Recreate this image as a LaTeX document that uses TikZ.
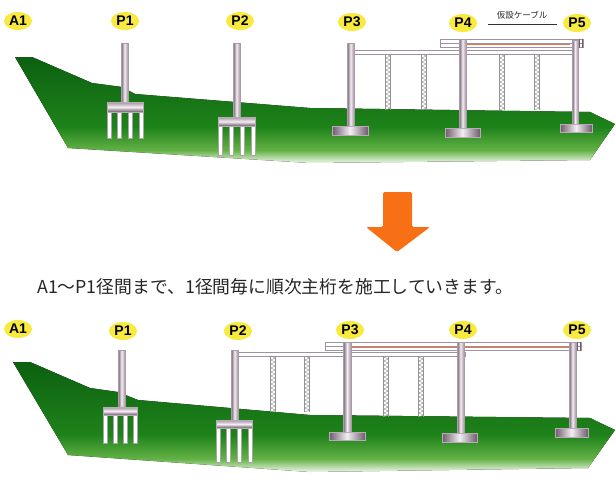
\documentclass[tikz,border=0pt]{standalone}
\usepackage{fontspec}
\setmainfont{Liberation Sans}
\newfontfamily\jpfont{Noto Sans CJK JP}
\usetikzlibrary{shapes.geometric}

\definecolor{gtop}{RGB}{12,96,16}
\definecolor{gmid}{RGB}{30,130,26}
\definecolor{glight}{RGB}{100,178,70}
\definecolor{gbot}{RGB}{238,246,234}
\definecolor{steelD}{RGB}{112,90,110}
\definecolor{steelM}{RGB}{165,145,160}
\definecolor{steelL}{RGB}{242,238,242}
\definecolor{labelyellow}{RGB}{248,234,62}
\definecolor{arroworange}{RGB}{247,112,22}
\definecolor{girderline}{RGB}{160,145,160}
\definecolor{cableorange}{RGB}{232,118,72}

\pgfdeclareverticalshading{groundshade}{100bp}{color(0bp)=(gbot); color(25bp)=(gbot); color(31bp)=(glight); color(42bp)=(gmid); color(75bp)=(gtop); color(100bp)=(gtop)}

\tikzset{
  ground/.style={shading=groundshade, draw=none},
  column/.style={left color=steelD, right color=steelM, middle color=steelL, draw=steelD!60, line width=0.3pt},
  capblock/.style={top color=steelM, bottom color=steelD, middle color=steelL, draw=steelD!50, line width=0.3pt},
  footing/.style={left color=steelD, right color=steelD, middle color=steelL, draw=steelD!50, line width=0.3pt},
  pile/.style={fill=white, draw=gray!70, line width=0.6pt},
  pierlabel/.style={ellipse, fill=labelyellow, inner sep=0pt, minimum width=28pt, minimum height=18pt, font=\bfseries\fontsize{14}{14}\selectfont},
  girder/.style={fill=white, draw=girderline, line width=0.6pt},
  bentline/.style={draw=gray!85, line width=0.55pt},
  cable/.style={draw=cableorange, line width=0.8pt},
}

% lattice bent: x, top, number of 4pt panels
\newcommand\latticebent[3]{%
  \draw[bentline] (#1-2.5,#2) -- ++(0,#3*4) (#1+2.5,#2) -- ++(0,#3*4);
  \foreach \k in {1,...,#3}{%
    \draw[bentline, line width=0.45pt] (#1-2.5,#2+\k*4-4) -- (#1+2.5,#2+\k*4-2) -- (#1-2.5,#2+\k*4);
  }%
}

% pier on piles: column left, column right, column top, cap left, cap right, cap top, cap bottom, pile bottom
\newcommand\pilepier[8]{%
  \pgfmathsetmacro\pw{(#5-#4-4)/3}
  \foreach \k in {0,...,3}{%
    \draw[pile] (#4+2+\k*\pw-2,#7) rectangle (#4+2+\k*\pw+2,#8);
  }%
  \draw[column] (#1,#3) rectangle (#2,#6);
  \draw[capblock] (#4,#6) rectangle (#5,#7);
}

% pier on spread footing: column left, column right, column top, base left, base right, base top, base bottom
\newcommand\footpier[7]{%
  \draw[column] (#1,#3) rectangle (#2,#6+1);
  \draw[footing] (#4,#6) rectangle (#5,#7);
}

\begin{document}
\begin{tikzpicture}[x=1pt, y=-1pt]
\fill[white] (0,0) rectangle (616,493);
\useasboundingbox (0,0) rectangle (616,493);

% ===== upper stage =====
\fill[ground] (15,57) -- (32,57) -- (92,83) -- (122,87) -- (135,94) -- (310,108)
  -- (590,112) -- (615,124) -- (590,160) -- (310,163) -- (68,148) -- cycle;

% temporary bents
\latticebent{388}{54}{14}
\latticebent{424}{54}{14}
\latticebent{502}{54}{14}
\latticebent{537}{54}{14}

% main girder P3-P5
\draw[girder] (353,50) rectangle (578,54);
% launching girder with cable
\draw[girder] (440,39) rectangle (583,47);
\draw[girderline, line width=0.4pt] (440,43) -- (583,43);
\draw[cable] (466,44.5) -- (570,44.5);
\draw[steelD, line width=0.8pt] (579,39) -- (579,48) (582,39) -- (582,48);

\pilepier{121}{128}{43}{107}{143}{102}{112}{138}
\pilepier{233}{240}{43}{218}{255}{117}{126}{155}
\footpier{347}{354}{43}{332}{368}{126}{135}
\footpier{459}{466}{39}{445}{480}{128}{137}
\footpier{572}{578}{40}{560}{592}{124}{132}

\node[pierlabel] (tA1) at (18,21) {A1};
\node[pierlabel] (tP1) at (125,21) {P1};
\node[pierlabel] (tP2) at (240,21) {P2};
\node[pierlabel] (tP3) at (352,22) {P3};
\node[pierlabel] (tP4) at (463,23) {P4};
\node[pierlabel] (tP5) at (577,23) {P5};
\node[font=\jpfont\fontsize{8.5}{9}\selectfont, inner sep=1pt, text=black!85] (cabletxt) at (522,15) {仮設ケーブル};
\draw[black!80, line width=0.6pt] (488,24) -- (557,24);

% ===== step arrow =====
\fill[arroworange, rounded corners=1.5pt] (383,192) -- (412,192) -- (412,227) -- (430,227)
  -- (397,252) -- (366,227) -- (383,227) -- cycle;

\node[anchor=west, font=\jpfont\fontsize{17.8}{20}\selectfont, text=black!85, inner sep=0pt] (caption)
  at (37,287) {A1～P1径間まで、1径間毎に順次主桁を施工していきます。};

% ===== lower stage =====
\fill[ground] (13,362) -- (30,362) -- (90,388) -- (118,392) -- (138,400) -- (310,415)
  -- (590,418) -- (615,430) -- (588,468) -- (310,472) -- (68,455) -- cycle;

\latticebent{273}{356}{14}
\latticebent{307}{356}{14}
\latticebent{386}{357}{15}
\latticebent{421}{357}{15}

% main girder P2-P4
\draw[girder] (238,352) rectangle (465,356.5);
% launching girder with cable
\draw[girder] (325,342) rectangle (581,350);
\draw[girderline, line width=0.4pt] (325,346) -- (581,346);
\draw[cable] (345,347.5) -- (570,347.5);
\draw[steelD, line width=0.8pt] (577,342) -- (577,351) (580,342) -- (580,351);

\pilepier{118}{125}{350}{103}{137}{407}{415}{443}
\pilepier{231}{238}{350}{216}{252}{420}{428}{462}
\footpier{343}{351}{342}{329}{365}{432}{440}
\footpier{457}{464}{342}{442}{477}{433}{442}
\footpier{569}{576}{342}{555}{588}{428}{437}

\node[pierlabel] (bA1) at (18,329) {A1};
\node[pierlabel] (bP1) at (123,331) {P1};
\node[pierlabel] (bP2) at (238,331) {P2};
\node[pierlabel] (bP3) at (350,330) {P3};
\node[pierlabel] (bP4) at (463,330) {P4};
\node[pierlabel] (bP5) at (577,330) {P5};
\end{tikzpicture}
\end{document}
